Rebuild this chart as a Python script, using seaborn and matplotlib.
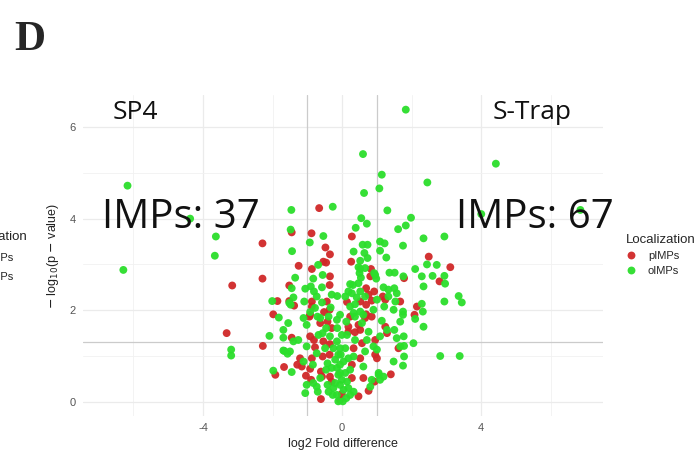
import matplotlib
matplotlib.use("Agg")
import matplotlib.pyplot as plt
import seaborn as sns
import pandas as pd
from matplotlib.ticker import FixedLocator

# log2 fold difference / -log10(p) for peripheral (pIMPs) and other (oIMPs) proteins
p_x = [-0.66, -2.29, -1.45, -1.25, -0.88, -0.48, -0.35, -0.54, -0.46, -0.87,
       0.28, 0.83, 2.49, 3.11, 1.78, 2.80, 2.15, 2.08, -2.29, -3.16,
       -3.32, -2.28, -1.67, -1.92, -1.86, -1.98, -1.52, -0.35, -0.36, 0.26,
       0.81, 0.69, 0.76, 0.92, 0.85, 1.17, 1.24, 1.67, -1.52, -1.38,
       -0.87, -0.44, -0.52, -0.92, -0.36, -0.87, 0.69, 0.69, 0.85, 0.14,
       0.52, -1.45, -1.21, -1.29, -1.16, -0.92, -0.81, -0.92, -1.04, -0.89,
       -0.61, -0.61, -0.58, -0.56, -0.36, -0.78, -0.54, -0.63, -0.42, -0.30,
       -0.35, -0.35, -0.30, -0.06, -0.01, 0.18, 0.18, 0.28, 0.28, 0.33,
       0.52, 0.57, 0.47, 0.37, 0.23, 0.66, 0.52, 0.61, 0.76, 0.47,
       0.93, 0.95, 0.95, 1.00, 1.24, 1.29, 1.62, 1.40, -0.94, -0.87]
p_y = [4.23, 3.46, 3.70, 2.97, 3.68, 3.37, 3.22, 3.06, 3.04, 2.90,
       3.61, 2.90, 3.17, 2.94, 2.70, 2.63, 2.08, 1.90, 2.69, 2.54,
       1.50, 1.22, 0.76, 0.59, 2.20, 1.91, 2.54, 2.74, 2.55, 3.06,
       2.74, 2.48, 2.34, 2.41, 2.21, 2.30, 2.23, 2.19, 2.20, 2.10,
       2.19, 2.19, 1.96, 1.90, 2.01, 2.08, 2.12, 1.91, 1.86, 2.18,
       2.19, 1.40, 0.95, 0.81, 0.77, 1.43, 1.35, 0.72, 0.57, 0.48,
       0.06, 0.66, 0.55, 0.99, 1.03, 1.19, 1.32, 1.72, 1.75, 1.61,
       1.26, 0.55, 0.44, 0.04, 0.17, 1.64, 1.53, 0.52, 0.81, 1.17,
       1.57, 1.28, 1.68, 1.52, 1.86, 1.83, 0.95, 0.52, 0.24, 0.12,
       0.44, 1.35, 1.03, 0.95, 1.64, 1.50, 1.17, 0.60, 1.86, 0.95]

o_x = [-6.17, -4.37, -3.63, -3.66, -6.29, -3.19, -3.19, -2.09, -1.98, -2.01,
       -1.82, -1.69, -1.69, -1.69, -1.57, -1.52, 1.83, 0.60, 1.14, 1.07,
       0.63, 2.45, -1.46, -0.27, -1.48, -1.44, -0.93, -0.54, -0.69, 0.55,
       0.71, 0.39, 0.59, 0.73, 0.33, 0.64, 1.09, 1.22, 1.09, 1.30,
       1.83, 1.98, 1.61, 1.75, 1.27, 2.34, 2.94, 2.44, 2.72, 2.10,
       1.36, 1.51, 1.76, 2.94, 0.52, 0.92, 4.42, 6.85, 4.00, 2.29,
       2.60, 3.35, 3.44, 3.38, 2.82, 2.34, 2.94, 2.96, 2.34, 2.32,
       2.29, 2.05, 1.78, 1.78, -1.35, -1.45, -1.06, -0.90, -0.83, -0.56,
       -0.58, -0.30, -0.14, 0.52, 0.73, 0.47, 0.66, 0.50, 0.54, 0.95,
       0.98, 0.47, 0.31, 0.52, 0.23, 0.28, 0.42, 0.66, 1.00, 1.19,
       1.33, 1.50, 1.57, 1.33, 1.53, 1.21, 1.48, 1.75, 1.75, -1.48,
       -1.40, -1.09, -0.81, -0.73, -0.58, -0.33, -0.92, -0.78, -0.71, -0.39,
       -0.63, -0.06, 0.23, 0.37, 0.33, 0.52, 0.61, 0.90, 0.09, 0.18,
       -1.45, -1.55, -1.40, -1.66, -1.50, -1.11, -1.26, -1.02, -1.02, -0.83,
       -0.70, -1.06, -0.73, -0.49, -0.68, -0.35, -0.25, -0.20, -0.42, -0.25,
       -0.15, 0.04, -0.06, -0.11, -0.15, -0.06, -0.11, -0.15, -0.14, -0.15,
       0.09, 0.14, 0.12, 0.04, 0.09, 0.14, 0.18, 0.23, 0.33, 0.37,
       0.57, 0.37, 0.76, 0.71, 0.66, 0.61, 0.81, 0.33, 0.85, 0.90,
       1.00, 1.05, 1.09, 1.14, 1.29, 1.50, 1.57, 1.77, 1.67, 1.75,
       1.48, 1.19, 1.05, 1.09, 2.10, 1.67, -1.02, -1.11, -0.84, -0.73,
       -0.63, -0.46, -0.42, -0.30, -0.39, -0.27, -0.20, -0.06, -0.01, -0.11,
       0.02, 0.12, 0.23, 0.18, -0.04, -0.06, -0.01, -0.46, -0.56]
o_y = [4.72, 4.00, 3.61, 3.19, 2.88, 1.14, 1.01, 1.44, 0.68, 2.20,
       1.84, 1.57, 1.40, 1.12, 1.05, 2.16, 6.38, 5.41, 4.96, 4.66,
       4.56, 4.79, 4.19, 4.26, 3.76, 3.29, 3.48, 3.62, 2.99, 4.01,
       3.89, 3.80, 3.43, 3.43, 3.28, 3.25, 3.50, 3.46, 3.30, 4.18,
       3.85, 4.02, 3.77, 3.41, 3.15, 3.57, 3.61, 3.00, 2.99, 2.90,
       2.82, 2.82, 2.74, 2.75, 2.90, 2.81, 5.20, 4.19, 4.10, 2.74,
       2.75, 2.31, 2.17, 1.00, 1.00, 1.64, 2.19, 2.58, 2.52, 1.97,
       2.14, 1.28, 0.99, 1.22, 2.71, 2.48, 2.47, 2.52, 2.69, 2.77,
       2.50, 2.34, 2.31, 3.08, 3.14, 2.94, 2.92, 2.81, 2.71, 2.77,
       2.69, 2.59, 2.55, 2.41, 2.57, 2.37, 2.28, 2.30, 2.23, 2.50,
       2.45, 2.48, 2.37, 2.30, 2.19, 2.08, 2.01, 1.97, 1.90, 2.12,
       2.28, 2.19, 2.41, 2.30, 2.17, 2.06, 1.96, 2.05, 1.86, 1.86,
       1.83, 1.90, 2.08, 2.13, 1.94, 1.97, 1.90, 2.01, 2.30, 2.41,
       0.65, 1.72, 1.32, 1.11, 1.10, 0.88, 1.35, 1.21, 0.37, 0.41,
       0.22, 0.19, 1.06, 1.17, 1.46, 1.43, 1.17, 0.92, 0.37, 0.30,
       0.15, 0.26, 0.37, 0.59, 0.74, 0.81, 1.03, 1.32, 1.61, 1.79,
       1.17, 1.46, 1.75, 0.88, 0.63, 0.44, 0.30, 0.70, 0.99, 1.35,
       1.72, 1.86, 1.53, 1.35, 1.10, 0.77, 0.33, 0.22, 0.48, 1.21,
       1.14, 0.63, 1.43, 1.77, 1.57, 1.57, 1.39, 1.43, 1.21, 0.79,
       0.88, 0.55, 0.59, 0.48, 1.81, 1.75, 1.68, 1.83, 0.81, 0.33,
       0.52, 0.70, 0.84, 0.74, 0.22, 0.15, 0.41, 0.63, 0.48, 0.01,
       0.01, 0.08, 0.15, 0.95, 1.03, 1.17, 1.46, 1.61, 1.50]

groups = ["pIMPs", "oIMPs"]
group_colors = {"pIMPs": "#D02828", "oIMPs": "#2BDE2B"}

x_ticks = [-4, 0, 4]
y_ticks = [0, 2, 4, 6]
x_minor = [-6, -2, 2, 6]
y_minor = [1, 3, 5]
fc_cut = 1.0
p_cut = 1.30103  # -log10(0.05)

df = pd.concat([
    pd.DataFrame({"log2FC": p_x, "nlogp": p_y, "Localization": "pIMPs"}),
    pd.DataFrame({"log2FC": o_x, "nlogp": o_y, "Localization": "oIMPs"}),
], ignore_index=True)

sns.set_theme(style="white")
plt.rcParams["font.family"] = ["Liberation Sans", "DejaVu Sans"]
plt.rcParams["axes.unicode_minus"] = False

W, H = 699, 454
fig = plt.figure(figsize=(W / 100, H / 100), dpi=100)
ax = fig.add_axes([83 / W, 1 - 416 / H, 520 / W, 321 / H])

# minimal-theme grid
ax.set_xlim(-7.45, 7.5)
ax.set_ylim(-0.31, 6.70)
ax.xaxis.set_major_locator(FixedLocator(x_ticks))
ax.yaxis.set_major_locator(FixedLocator(y_ticks))
ax.xaxis.set_minor_locator(FixedLocator(x_minor))
ax.yaxis.set_minor_locator(FixedLocator(y_minor))
ax.grid(which="major", color="#EBEBEB", linewidth=0.9)
ax.grid(which="minor", color="#F1F1F1", linewidth=0.6)
ax.set_axisbelow(True)
for s in ax.spines.values():
    s.set_visible(False)

# significance thresholds
for v in (-fc_cut, fc_cut):
    ax.axvline(v, color="#CBCBCB", linewidth=0.9, zorder=1)
ax.axhline(p_cut, color="#CBCBCB", linewidth=0.9, zorder=1)

sns.scatterplot(data=df, x="log2FC", y="nlogp", hue="Localization",
                hue_order=groups, palette=group_colors, s=32,
                linewidth=0, alpha=0.95, ax=ax, zorder=3)

ax.tick_params(which="both", length=0, labelsize=8, colors="#555555", pad=5)
ax.set_xlabel("log2 Fold difference", fontsize=9, color="#222222", labelpad=4)
ax.set_ylabel("$-$ log$_{10}$(p $-$ value)", fontsize=9, color="#222222", labelpad=6)

sns.move_legend(ax, "upper left", bbox_to_anchor=(618 / W, 1 - 226 / H),
                bbox_transform=fig.transFigure, frameon=False,
                title="Localization", fontsize=8, title_fontsize=9.5,
                alignment="left", handlelength=1.0, handletextpad=1.0,
                labelspacing=0.45, markerscale=1.0, borderpad=0.2)

# dataset labels and counts
text_font = ["Open Sans", "DejaVu Sans"]
ax.text(-5.93, 6.31, "SP4", fontsize=19, ha="center", va="center",
        family=text_font, color="#111111")
ax.text(5.47, 6.31, "S-Trap", fontsize=19, ha="center", va="center",
        family=text_font, color="#111111")
ax.text(-4.63, 4.02, "IMPs: 37", fontsize=29, ha="center", va="center",
        family=text_font, color="#111111", zorder=5)
ax.text(5.55, 4.02, "IMPs: 67", fontsize=29, ha="center", va="center",
        family=text_font, color="#111111", zorder=5)

# panel letter
fig.text(14 / W, 1 - 40 / H, "D", fontsize=31, fontweight="bold",
         family=["Liberation Serif", "DejaVu Serif"], ha="left", va="center")

# neighbouring panel legend running off the left edge
fig.text(28 / W, 1 - 237 / H, "Localization", fontsize=9.5, ha="right", va="center", color="#222222")
fig.text(14 / W, 1 - 258 / H, "pIMPs", fontsize=8, ha="right", va="center", color="#222222")
fig.text(14 / W, 1 - 277 / H, "oIMPs", fontsize=8, ha="right", va="center", color="#222222")

fig.savefig("out.png", dpi=100)
